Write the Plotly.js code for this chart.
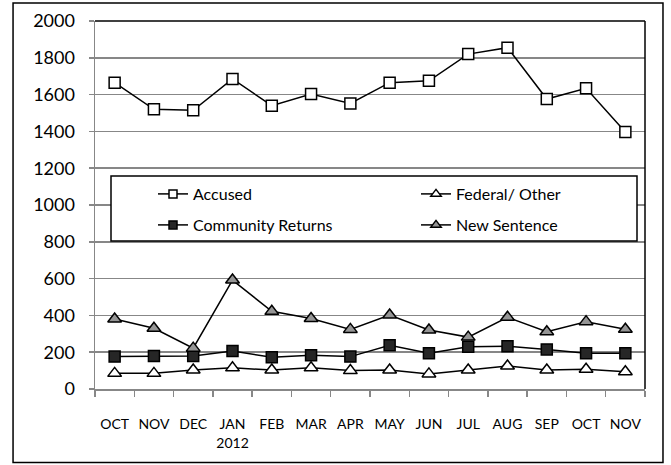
<!DOCTYPE html>
<html>
<head>
<meta charset="utf-8">
<script src="https://cdn.plot.ly/plotly-3.0.1.min.js"></script>
<style>html,body{margin:0;padding:0;background:#fff;}#chart{width:671px;height:465px;}</style>
</head>
<body>
<div id="chart"></div>
<script>
var categories = ["OCT 2011","NOV 2011","DEC 2011","JAN 2012","FEB 2012","MAR 2012","APR 2012","MAY 2012","JUN 2012","JUL 2012","AUG 2012","SEP 2012","OCT 2012","NOV 2012"];
var tickLabels = ["OCT","NOV","DEC","JAN<br>2012","FEB","MAR","APR","MAY","JUN","JUL","AUG","SEP","OCT","NOV"];
var accused = [1665,1520,1515,1685,1540,1603,1552,1665,1675,1820,1855,1576,1634,1397];
var federalOther = [85,85,103,115,103,115,100,103,82,103,125,103,107,94];
var communityReturns = [176,180,180,207,172,184,176,238,194,230,233,215,194,194];
var newSentence = [380,330,222,592,422,383,324,402,321,282,390,311,366,325];
var yTicks = [0,200,400,600,800,1000,1200,1400,1600,1800,2000];
var seriesNames = ["Accused","Community Returns","Federal/ Other","New Sentence"];

var FONT = "Lato, 'Open Sans', sans-serif";
var GRAY = "#878787";

function tr(name, y, symbol, fill, legendId, size, inLegend) {
  return {
    x: y ? categories : [categories[0]], y: y || [null], name: name, type: "scatter", mode: "lines+markers",
    line: {color: "#000", width: 1.5},
    marker: {symbol: symbol, size: size, color: fill, line: {color: "#000", width: 1.5}},
    legend: legendId, showlegend: inLegend, cliponaxis: false
  };
}
var styles = [["square","#ffffff","legend",11],["square","#262626","legend2",11],["triangle-up","#ffffff","legend3",12],["triangle-up","#959595","legend4",12]];
var values = [accused, communityReturns, federalOther, newSentence];
var data = [];
for (var i = 0; i < 4; i++) {
  data.push(tr(seriesNames[i], values[i], styles[i][0], styles[i][1], styles[i][2], styles[i][3], false));
}
for (var j = 0; j < 4; j++) {
  data.push(tr(seriesNames[j], null, styles[j][0], styles[j][1], styles[j][2], styles[j][0] === "square" ? 8 : 9, true));
}

function lg(x, y) {
  return {x: x, y: y, xanchor: "left", yanchor: "middle", bgcolor: "rgba(0,0,0,0)", borderwidth: 0,
          font: {family: FONT, size: 16, color: "#000"}};
}
var PW = 550, PH = 368;
function px(x) { return (x - 95) / PW; }
function py(y) { return (389 - y) / PH; }

var layout = {
  width: 671, height: 465,
  margin: {l: 95, r: 26, t: 21, b: 76},
  paper_bgcolor: "#fff", plot_bgcolor: "#fff",
  showlegend: true,
  font: {family: FONT, color: "#000"},
  xaxis: {
    type: "category", tickmode: "array", tickvals: categories, ticktext: tickLabels,
    tickson: "boundaries", ticks: "outside", ticklen: 6, tickcolor: GRAY, tickwidth: 1.5,
    showgrid: false, showline: true, linecolor: GRAY, linewidth: 1.5, tickangle: 0,
    tickfont: {family: FONT, size: 14, color: "#000"}, ticklabelstandoff: 22,
    range: [-0.5, 13.5], fixedrange: true
  },
  yaxis: {
    range: [0, 2000], tickmode: "array", tickvals: yTicks,
    ticks: "outside", ticklen: 5, tickcolor: GRAY, tickwidth: 1.5,
    showgrid: true, gridcolor: GRAY, gridwidth: 1.5, zeroline: false,
    showline: true, linecolor: GRAY, linewidth: 1.5,
    tickfont: {family: FONT, size: 18, color: "#000"}, ticklabelstandoff: 10
  },
  legend: lg(px(153), py(194)),
  legend2: lg(px(153), py(225)),
  legend3: lg(px(416), py(194)),
  legend4: lg(px(416), py(225)),
  shapes: [
    {type: "rect", xref: "paper", yref: "paper", x0: -0.149, x1: 1.0327, y0: -0.2, y1: 1.049,
     line: {color: "#000", width: 1.5}, fillcolor: "rgba(0,0,0,0)", layer: "below"},
    {type: "line", xref: "paper", yref: "paper", x0: 0, x1: 1, y0: 1, y1: 1, line: {color: "#000", width: 1.5}},
    {type: "line", xref: "paper", yref: "paper", x0: 1, x1: 1, y0: 0, y1: 1, line: {color: "#000", width: 1.5}},
    {type: "rect", xref: "paper", yref: "paper", x0: px(111), x1: px(637), y0: py(241), y1: py(176),
     line: {color: "#000", width: 1.5}, fillcolor: "#fff", layer: "above"}
  ]
};

Plotly.newPlot("chart", data, layout, {staticPlot: true, displayModeBar: false});
</script>
</body>
</html>
